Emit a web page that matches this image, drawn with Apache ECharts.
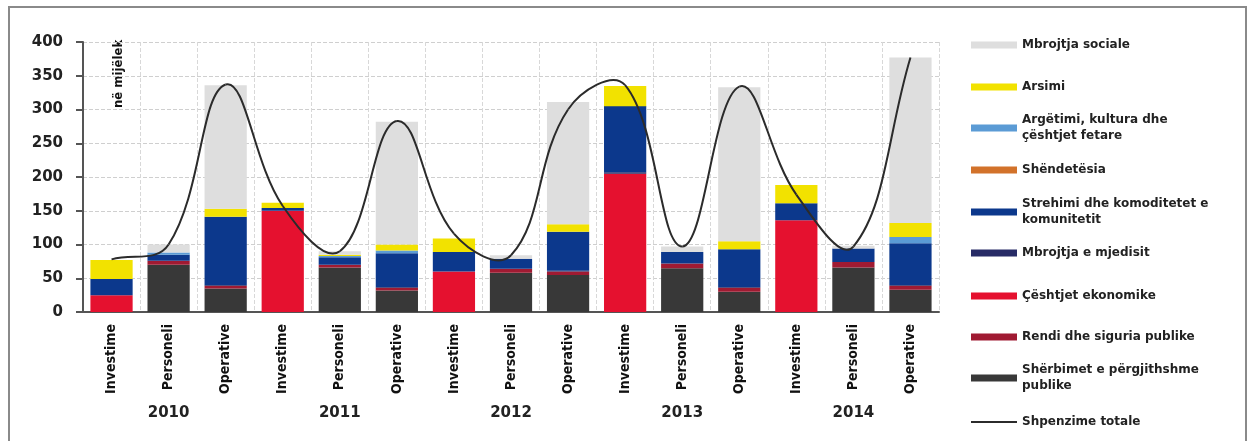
<!DOCTYPE html>
<html>
<head>
<meta charset="utf-8">
<script src="https://cdn.jsdelivr.net/npm/echarts@6.0.0/dist/echarts.min.js"></script>
<style>
  html,body{margin:0;padding:0;background:#fff;}
  #main{width:1248px;height:441px;}
</style>
</head>
<body>
<div id="main"></div>
<script>
  // kategorite dhe vitet
  var categories = ['Investime','Personeli','Operative','Investime','Personeli','Operative','Investime','Personeli','Operative','Investime','Personeli','Operative','Investime','Personeli','Operative'];
  var years = ['2010','2011','2012','2013','2014'];
  var yTicks = [0, 50, 100, 150, 200, 250, 300, 350, 400];

  // vlerat ne mije leke, nga poshte lart ne stive
  var sherbimet  = [0,70,35,   0,66,32,   0,58,55,   0,65,30,   0,66,33];
  var rendi      = [0,6,4,     0,4,4,     0,6,5,     0,7,6,     0,8,6];
  var ekonomike  = [25,0,0,    150,0,0,   60,0,0,    205,0,0,   136,0,0];
  var mjedisit   = [0,0,1,     0,0,1,     0,0,1,     2,0,1,     0,0,1];
  var strehimi   = [24,9,101,  4,11,50,   29,15,58,  98,17,56,  25,20,62];
  var shendetesia= [0,0,0,     0,0,0,     0,0,0,     0,0,0,     0,0,0];
  var argetimi   = [0,3,0,     0,2,4,     0,0,0,     0,0,0,     0,0,9];
  var arsimi     = [28,0,12,   8,2,9,     20,0,11,   30,0,12,   27,0,21];
  var sociale    = [0,12,183,  0,5,182,   0,5,181,   0,8,228,   0,4,245];
  var totale     = [78,100,337, 157,90,283, 116,84,300, 336,97,334, 174,97,377];

  var boldFont = 'DejaVu Sans';
  var narrowFont = "'Liberation Sans Narrow', 'DejaVu Sans Condensed', 'Roboto Condensed', sans-serif";

  var stackDefs = [
    {name:'Shërbimet e përgjithshme\npublike', data:sherbimet, color:'#383838', top:373, two:true},
    {name:'Rendi dhe siguria publike', data:rendi, color:'#a01a32', top:332},
    {name:'Çështjet ekonomike', data:ekonomike, color:'#e5112f', top:291},
    {name:'Mbrojtja e mjedisit', data:mjedisit, color:'#272b66', top:248},
    {name:'Strehimi dhe komoditetet e\nkomunitetit', data:strehimi, color:'#0c388c', top:207, two:true},
    {name:'Shëndetësia', data:shendetesia, color:'#d2722a', top:165},
    {name:'Argëtimi, kultura dhe\nçështjet fetare', data:argetimi, color:'#5b9bd5', top:123, two:true},
    {name:'Arsimi', data:arsimi, color:'#f2e200', top:82},
    {name:'Mbrojtja sociale', data:sociale, color:'#dedede', top:40}
  ];

  var series = stackDefs.map(function(d){
    return {
      name:d.name,
      type:'bar',
      stack:'total',
      barWidth:'74%',
      itemStyle:{color:d.color},
      data:d.data
    };
  });

  // vija e zbutur si ne Excel: pikat e kontrollit sipas gjatesise se segmenteve
  var SMOOTH = 0.4;
  function controlPoints(api, i){
    var n = totale.length;
    var p = api.coord([i, totale[i]]);
    var a = api.coord([Math.max(i-1,0), totale[Math.max(i-1,0)]]);
    var b = api.coord([Math.min(i+1,n-1), totale[Math.min(i+1,n-1)]]);
    var dPrev = Math.hypot(p[0]-a[0], p[1]-a[1]);
    var dNext = Math.hypot(b[0]-p[0], b[1]-p[1]);
    var sum = dPrev + dNext || 1;
    var vx = b[0]-a[0], vy = b[1]-a[1];
    return {
      p:p,
      inCp:[p[0] - vx*SMOOTH*dPrev/sum, p[1] - vy*SMOOTH*dPrev/sum],
      outCp:[p[0] + vx*SMOOTH*dNext/sum, p[1] + vy*SMOOTH*dNext/sum]
    };
  }
  function renderTotal(params, api){
    var i = params.dataIndex;
    if(i >= totale.length - 1) return null;
    var c1 = controlPoints(api, i);
    var c2 = controlPoints(api, i+1);
    return {
      type:'bezierCurve',
      shape:{
        x1:c1.p[0], y1:c1.p[1], x2:c2.p[0], y2:c2.p[1],
        cpx1:c1.outCp[0], cpy1:c1.outCp[1],
        cpx2:c2.inCp[0], cpy2:c2.inCp[1]
      },
      style:{stroke:'#2b2b2b', lineWidth:2, fill:null}
    };
  }
  series.push({
    name:'Shpenzime totale',
    type:'custom',
    renderItem:renderTotal,
    z:10,
    itemStyle:{color:'#2b2b2b'},
    data:totale
  });

  // nje legjende per cdo rresht, qe te ruhet hapesira e njejte
  function legendItem(name, center, two, isLine){
    return {
      data:[name],
      orient:'vertical',
      left:966,
      top: two ? center - 24 : center - 8,
      itemWidth:46,
      itemHeight: isLine ? 2 : 7,
      itemGap:0,
      icon:'rect',
      selectedMode:false,
      textStyle:{
        fontFamily:boldFont,
        fontWeight:'bold',
        fontSize:12,
        color:'#222',
        lineHeight:16,
        padding: two ? [16,0,0,0] : 0
      }
    };
  }
  var legends = stackDefs.slice().reverse().map(function(d){
    return legendItem(d.name, d.top, d.two, false);
  });
  legends.push(legendItem('Shpenzime totale', 417, false, true));

  var option = {
    animation:false,
    backgroundColor:'#fff',
    legend:legends,
    grid:{left:83, right:309, top:42, bottom:129},
    xAxis:[
      {
        type:'category',
        data:categories,
        axisLine:{lineStyle:{color:'#555', width:2}},
        axisTick:{interval:0, length:78, lineStyle:{color:'#999', width:1.5}},
        axisLabel:{
          interval:0, rotate:90, margin:12,
          fontFamily:narrowFont, fontWeight:'bold', fontSize:14, color:'#111'
        },
        splitLine:{show:true, interval:0, lineStyle:{color:'#d8d8d8', type:'dashed'}}
      },
      {
        type:'category',
        data:years,
        position:'bottom',
        axisLine:{show:false},
        axisTick:{interval:0, length:108, lineStyle:{color:'#888', width:2}},
        axisLabel:{
          interval:0, margin:94,
          fontFamily:boldFont, fontWeight:'bold', fontSize:15, color:'#222'
        }
      }
    ],
    yAxis:{
      type:'value',
      min:yTicks[0],
      max:yTicks[yTicks.length-1],
      interval:50,
      axisLine:{show:true, lineStyle:{color:'#555', width:2}},
      axisTick:{show:true, length:7, lineStyle:{color:'#555', width:2}},
      axisLabel:{margin:20, fontFamily:boldFont, fontWeight:'bold', fontSize:15, color:'#222'},
      splitLine:{lineStyle:{color:'#cfcfcf', type:'dashed'}}
    },
    graphic:[
      {
        type:'rect',
        shape:{x:9, y:7, width:1237, height:460},
        style:{fill:null, stroke:'#8a8a8a', lineWidth:2},
        silent:true
      },
      {
        type:'text',
        x:119, y:108,
        rotation:Math.PI/2,
        style:{
          text:'në mijëlek',
          fontFamily:narrowFont, fontWeight:'bold', fontSize:13, fill:'#111',
          align:'left', verticalAlign:'middle'
        }
      }
    ],
    series:series
  };

  var chart = echarts.init(document.getElementById('main'));
  chart.setOption(option);
</script>
</body>
</html>
